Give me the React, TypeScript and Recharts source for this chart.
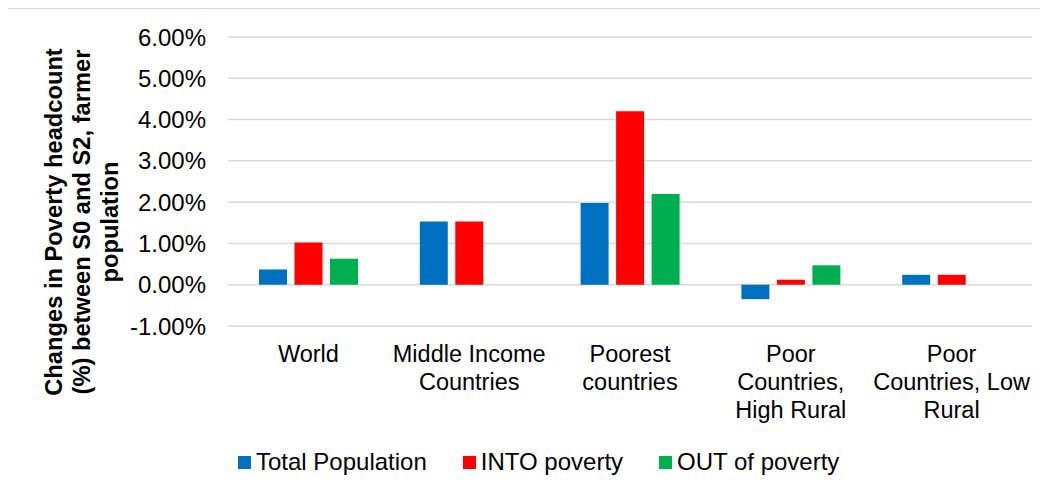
import { BarChart, Bar, XAxis, YAxis, CartesianGrid, Legend } from "recharts";

const categories = [
  "World",
  "Middle Income\nCountries",
  "Poorest\ncountries",
  "Poor\nCountries,\nHigh Rural",
  "Poor\nCountries, Low\nRural",
];
const totalPopulation = [0.37, 1.53, 1.98, -0.35, 0.24];
const intoPoverty = [1.02, 1.53, 4.2, 0.12, 0.24];
const outOfPoverty = [0.63, null, 2.2, 0.47, null];
const yTicks = [-1, 0, 1, 2, 3, 4, 5, 6];

const seriesNames = ["Total Population", "INTO poverty", "OUT of poverty"];
const seriesColors = ["#0070c0", "#ff0000", "#00b050"];

const data = categories.map((c, i) => ({
  category: c,
  total: totalPopulation[i],
  into: intoPoverty[i],
  out: outOfPoverty[i],
}));

const font = "'Liberation Sans', Arial, sans-serif";

function CategoryTick(props: any) {
  const { x, y, payload } = props;
  const lines = String(payload.value).split("\n");
  return (
    <text x={x} y={y} textAnchor="middle" fill="#000" fontSize={23.5} fontFamily={font}>
      {lines.map((l, i) => (
        <tspan key={i} x={x} dy={i === 0 ? 36 : 28}>
          {l}
        </tspan>
      ))}
    </text>
  );
}

function YTitle() {
  const lines = [
    "Changes in Poverty headcount",
    "(%) between S0 and S2, farmer",
    "population",
  ];
  const cy = 213;
  return (
    <g>
      {lines.map((l, i) => {
        const cx = 46 + i * 28;
        return (
          <text
            key={i}
            x={cx}
            y={cy}
            transform={`rotate(-90 ${cx} ${cy})`}
            textAnchor="middle"
            dominantBaseline="central"
            fontSize={23.7}
            fontWeight="bold"
            fontFamily={font}
            fill="#000"
          >
            {l}
          </text>
        );
      })}
    </g>
  );
}

function renderLegend() {
  return (
    <div style={{ display: "flex", alignItems: "center", fontFamily: font, fontSize: 24, color: "#000", whiteSpace: "nowrap" }}>
      {seriesNames.map((n, i) => (
        <div key={n} style={{ display: "flex", alignItems: "center", marginRight: 36 }}>
          <span style={{ display: "inline-block", width: 13, height: 13, background: seriesColors[i], marginRight: 5 }} />
          <span>{n}</span>
        </div>
      ))}
    </div>
  );
}

export default function App() {
  return (
    <div style={{ width: 1032, height: 482, border: "1px solid #d9d9d9", marginLeft: -1, background: "#fff", position: "relative" }}>
      <BarChart
        width={1032}
        height={482}
        data={data}
        margin={{ top: 28, right: 8, left: 0, bottom: 0 }}
        barSize={28}
        barGap={7.5}
      >
        <CartesianGrid vertical={false} stroke="#d9d9d9" strokeWidth={1.5} />
        <XAxis
          dataKey="category"
          height={165}
          tick={<CategoryTick />}
          tickLine={false}
          axisLine={false}
          tickSize={0}
          tickMargin={0}
          interval={0}
        />
        <YAxis
          width={220}
          domain={[-1, 6]}
          ticks={yTicks}
          tickFormatter={(v: number) => `${v.toFixed(2)}%`}
          tick={{ fill: "#000", fontSize: 24, fontFamily: font }}
          tickLine={false}
          axisLine={false}
          tickSize={0}
          tickMargin={22}
          label={{ content: () => <YTitle /> }}
        />
        <Legend
          layout="horizontal"
          verticalAlign="middle"
          align="center"
          wrapperStyle={{ top: 439, left: 230, width: "auto" }}
          content={renderLegend}
        />
        <Bar dataKey="total" name={seriesNames[0]} fill={seriesColors[0]} isAnimationActive={false} />
        <Bar dataKey="into" name={seriesNames[1]} fill={seriesColors[1]} isAnimationActive={false} />
        <Bar dataKey="out" name={seriesNames[2]} fill={seriesColors[2]} isAnimationActive={false} />
      </BarChart>
    </div>
  );
}
